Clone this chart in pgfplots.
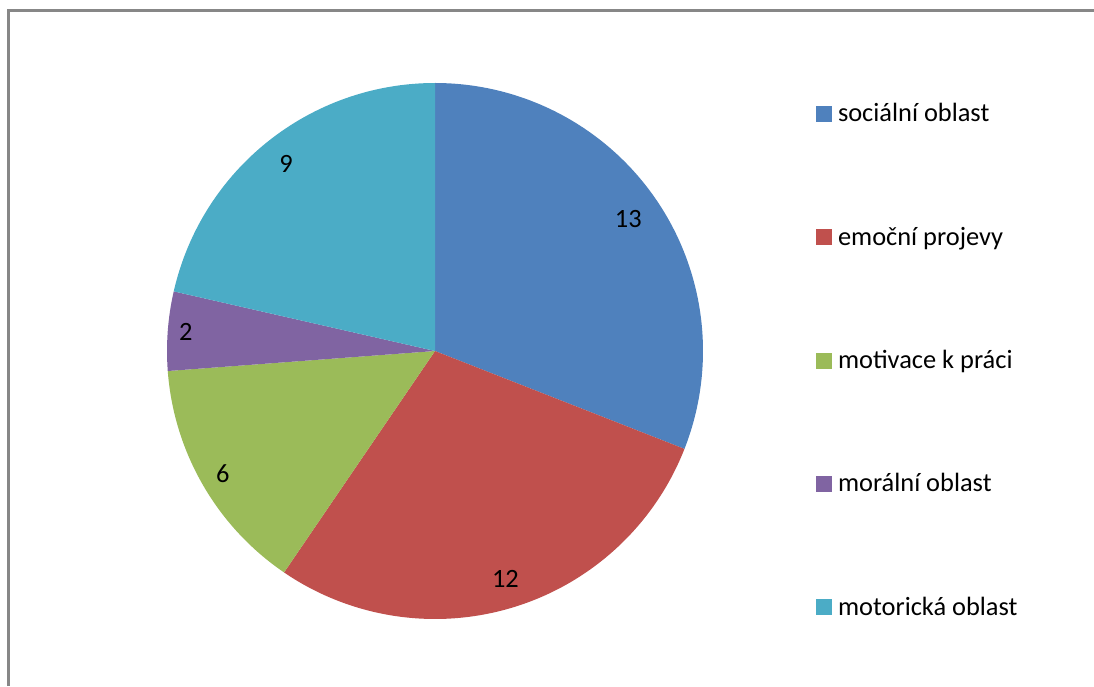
\documentclass[border=0pt]{standalone}
\usepackage{pgfplots}
\pgfplotsset{compat=1.18}
\usepackage{pgfplotstable}
\usepackage{fontspec}
\setmainfont{Carlito}
\definecolor{s0}{HTML}{4F81BD}
\definecolor{s1}{HTML}{C0504D}
\definecolor{s2}{HTML}{9BBB59}
\definecolor{s3}{HTML}{8064A2}
\definecolor{s4}{HTML}{4BACC6}
\definecolor{frame}{HTML}{878787}
\newcommand\lf{\fontsize{19.8}{24}\selectfont}

\pgfplotstableread[col sep=comma]{
name,value,lr
sociální oblast,13,234
emoční projevy,12,239
motivace k práci,6,245
morální oblast,2,250
motorická oblast,9,239
}\piedata

\begin{document}
\begin{tikzpicture}
\begin{axis}[
  x=0.75pt, y=0.75pt,
  xmin=0, xmax=1094, ymin=0, ymax=686,
  hide axis, clip=false,
  legend cell align=left,
  legend style={draw=none, fill=none, at={(axis cs:812,587)}, anchor=north west,
    font=\lf, row sep=73.5pt, column sep=4.65pt,
    nodes={inner sep=0pt, text height=15pt, text depth=4pt}},
]
\draw[frame, line width=2.25pt] (axis cs:8.5,0) -- (axis cs:8.5,675) -- (axis cs:1094,675);
\def\cx{435}\def\cy{335}\def\R{201pt}
\def\tot{0}
\pgfplotsforeachungrouped \i in {0,...,4}{%
  \pgfplotstablegetelem{\i}{value}\of\piedata
  \pgfmathsetmacro\tot{\tot+\pgfplotsretval}%
}
\def\start{90}
\pgfplotsforeachungrouped \i in {0,...,4}{%
  \pgfplotstablegetelem{\i}{value}\of\piedata
  \let\v\pgfplotsretval
  \pgfplotstablegetelem{\i}{lr}\of\piedata
  \let\r\pgfplotsretval
  \pgfmathsetmacro\e{\start-360*\v/\tot}%
  \pgfmathsetmacro\m{(\start+\e)/2}%
  \pgfmathsetmacro\lx{\cx+\r*cos(\m)}%
  \pgfmathsetmacro\ly{\cy+\r*sin(\m)}%
  \edef\cmd{\noexpand\fill[s\i] (axis cs:\cx,\cy) -- ++(\start:\R) arc[start angle=\start, end angle=\e, radius=\R] -- cycle;
  \noexpand\node[font=\noexpand\lf, inner sep=0pt] at (axis cs:\lx,\ly) {\v};}%
  \cmd
  \let\start\e
}
\addlegendimage{legend image code/.code={\fill[s0] (0pt,-5pt) rectangle (11.25pt,6.25pt);}}
\addlegendentry{sociální oblast}
\addlegendimage{legend image code/.code={\fill[s1] (0pt,-5pt) rectangle (11.25pt,6.25pt);}}
\addlegendentry{emoční projevy}
\addlegendimage{legend image code/.code={\fill[s2] (0pt,-5pt) rectangle (11.25pt,6.25pt);}}
\addlegendentry{motivace k práci}
\addlegendimage{legend image code/.code={\fill[s3] (0pt,-5pt) rectangle (11.25pt,6.25pt);}}
\addlegendentry{morální oblast}
\addlegendimage{legend image code/.code={\fill[s4] (0pt,-5pt) rectangle (11.25pt,6.25pt);}}
\addlegendentry{motorická oblast}
\end{axis}
\pgfresetboundingbox
\path (current axis.south west) rectangle (current axis.north east);
\end{tikzpicture}
\end{document}
